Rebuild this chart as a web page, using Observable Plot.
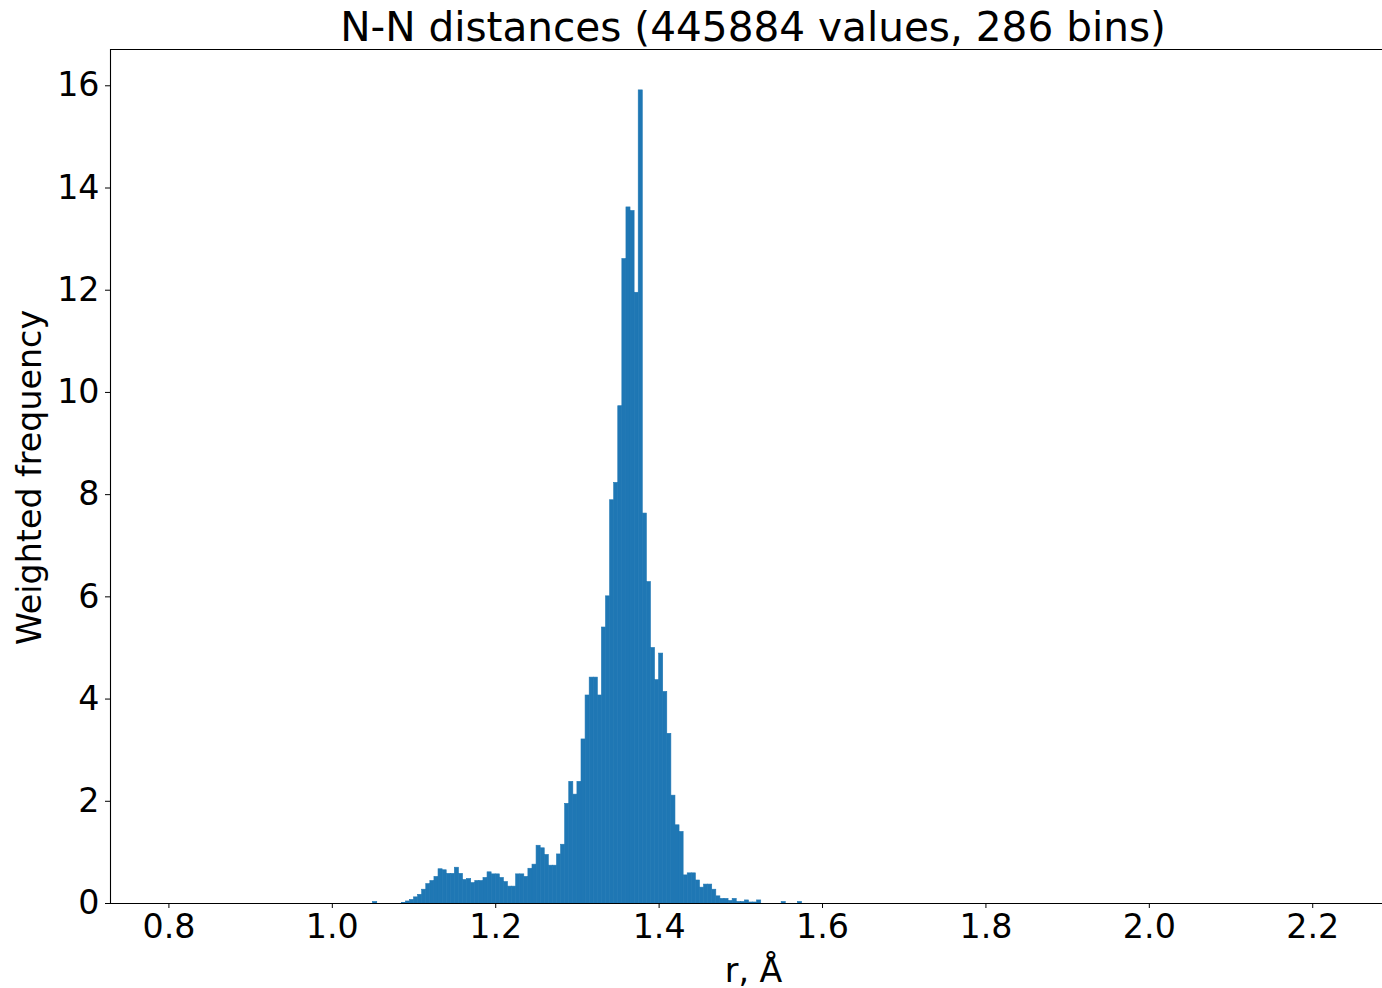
<!DOCTYPE html>
<html><head><meta charset="utf-8">
<script src="https://cdn.jsdelivr.net/npm/d3@7"></script>
<script src="https://cdn.jsdelivr.net/npm/@observablehq/plot@0.6"></script>
<style>
html,body{margin:0;padding:0;background:#fff;}
body{width:1382px;height:988px;overflow:hidden;font-family:"DejaVu Sans",sans-serif;}
#title{width:1286px;margin-left:110px;height:45px;padding-top:3px;line-height:48px;font-size:40.6px;text-align:center;color:#000;white-space:nowrap;}
</style></head><body>
<div id="title">N-N distances (445884 values, 286 bins)</div>
<div id="chart"></div>
<script>
// Histogram bins (left edges, Å) with non-zero weighted frequency; bin width 0.005 Å
const binWidth = 0.005;
const binLeft = [
  1.050, 1.085, 1.090, 1.095, 1.100, 1.105, 1.110, 1.115, 1.120, 1.125,
  1.130, 1.135, 1.140, 1.145, 1.150, 1.155, 1.160, 1.165, 1.170, 1.175,
  1.180, 1.185, 1.190, 1.195, 1.200, 1.205, 1.210, 1.215, 1.220, 1.225,
  1.230, 1.235, 1.240, 1.245, 1.250, 1.255, 1.260, 1.265, 1.270, 1.275,
  1.280, 1.285, 1.290, 1.295, 1.300, 1.305, 1.310, 1.315, 1.320, 1.325,
  1.330, 1.335, 1.340, 1.345, 1.350, 1.355, 1.360, 1.365, 1.370, 1.375,
  1.380, 1.385, 1.390, 1.395, 1.400, 1.405, 1.410, 1.415, 1.420, 1.425,
  1.430, 1.435, 1.440, 1.445, 1.450, 1.455, 1.460, 1.465, 1.470, 1.475,
  1.480, 1.485, 1.490, 1.495, 1.500, 1.505, 1.510, 1.515, 1.520, 1.550,
  1.570
];
const weightedFreq = [
  0.03, 0.01, 0.04, 0.07, 0.12, 0.17, 0.27, 0.38, 0.44, 0.52,
  0.67, 0.65, 0.58, 0.58, 0.70, 0.58, 0.46, 0.48, 0.40, 0.44,
  0.44, 0.50, 0.61, 0.57, 0.57, 0.50, 0.42, 0.33, 0.33, 0.57,
  0.57, 0.52, 0.68, 0.76, 1.13, 1.08, 0.95, 0.74, 0.74, 0.96,
  1.15, 1.95, 2.38, 2.13, 2.38, 3.21, 4.07, 4.42, 4.42, 4.07,
  5.40, 6.01, 7.89, 8.23, 9.73, 12.61, 13.62, 13.55, 11.95, 15.91,
  7.63, 6.29, 5.00, 4.37, 4.89, 4.14, 3.32, 2.11, 1.53, 1.40,
  0.55, 0.59, 0.59, 0.45, 0.31, 0.37, 0.37, 0.27, 0.14, 0.09,
  0.09, 0.05, 0.09, 0.03, 0.03, 0.06, 0.02, 0.02, 0.06, 0.03,
  0.03
];
const xTicks = [0.8, 1.0, 1.2, 1.4, 1.6, 1.8, 2.0, 2.2];
const yTicks = [0, 2, 4, 6, 8, 10, 12, 14, 16];
const xDomain = [0.7285, 2.2854];
const yDomain = [0, 16.71];
const titleText = "N-N distances (445884 values, 286 bins)";
const xLabel = "r, Å";
const yLabel = "Weighted frequency";

const bins = binLeft.map((x1, i) => ({x1, x2: x1 + binWidth, w: weightedFreq[i]}));
const blue = "#1f77b4";
const fs = 33.3;

const chart = Plot.plot({
  width: 1382,
  height: 940,
  marginLeft: 110,
  marginRight: 0,
  marginTop: 1,
  marginBottom: 85,
  style: "font-family:'DejaVu Sans',sans-serif;font-size:33.3px;color:#000;background:#fff;overflow:visible;",
  x: {domain: xDomain, ticks: xTicks, tickFormat: d3.format(".1f"), tickSize: 5, tickPadding: 6, label: null},
  y: {domain: yDomain, ticks: yTicks, tickFormat: d3.format("d"), tickSize: 5, tickPadding: 6, label: null},
  marks: [
    Plot.rectY(bins, {x1: "x1", x2: "x2", y: "w", fill: blue, stroke: blue, strokeWidth: 0.6}),
    Plot.ruleX([xDomain[0]], {stroke: "#000", strokeWidth: 1.1}),
    Plot.ruleY([yDomain[0], yDomain[1]], {stroke: "#000", strokeWidth: 1.1}),
    Plot.text([yLabel], {frameAnchor: "left", textAnchor: "middle", rotate: -90, dx: -70, dy: 1, lineAnchor: "bottom", fontSize: fs, fill: "#000"}),
    Plot.text([xLabel], {frameAnchor: "bottom", textAnchor: "middle", dx: 7, dy: 78, lineAnchor: "bottom", fontSize: fs, fill: "#000"})
  ]
});
document.getElementById("title").textContent = titleText;
document.getElementById("chart").appendChild(chart);
</script>
</body></html>
